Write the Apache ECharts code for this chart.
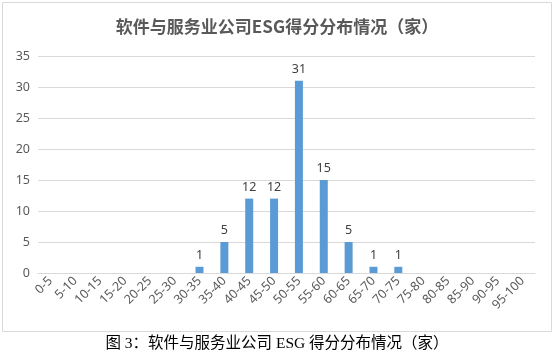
<!DOCTYPE html>
<html><head><meta charset="utf-8">
<script src="https://cdn.jsdelivr.net/npm/echarts@6/dist/echarts.min.js"></script>
<style>html,body{margin:0;padding:0;background:#fff}#c{width:554px;height:360px}</style>
</head><body><div id="c"></div>
<script>
const categories = ['0-5','5-10','10-15','15-20','20-25','25-30','30-35','35-40','40-45','45-50','50-55','55-60','60-65','65-70','70-75','75-80','80-85','85-90','90-95','95-100'];
const counts = [0,0,0,0,0,0,1,5,12,12,31,15,5,1,1,0,0,0,0,0];
const yTicks = [0,5,10,15,20,25,30,35];
const chart = echarts.init(document.getElementById('c'));
chart.setOption({
  animation:false,
  title:{text:'软件与服务业公司ESG得分分布情况（家）',left:'center',top:13,
    textStyle:{fontFamily:'Noto Sans CJK SC',fontSize:17,fontWeight:'bold',color:'#595959'}},
  grid:{left:38,right:19,top:56,bottom:87,containLabel:false},
  xAxis:{type:'category',data:categories,
    axisLine:{lineStyle:{color:'#d9d9d9'}},axisTick:{show:false},
    axisLabel:{rotate:45,interval:0,color:'#595959',fontSize:12.5,fontFamily:'Noto Sans',margin:6}},
  yAxis:{type:'value',min:0,max:35,interval:5,
    axisLine:{show:false},axisTick:{show:false},
    splitLine:{lineStyle:{color:'#d9d9d9'}},
    axisLabel:{color:'#595959',fontSize:12.5,fontFamily:'Noto Sans',margin:8,
      formatter:v=>yTicks.includes(v)?String(v):''}},
  series:[{type:'bar',data:counts.map(v=>v===0?null:v),barWidth:8,
    itemStyle:{color:'#5B9BD5'},
    label:{show:true,position:'top',color:'#404040',fontSize:12.5,fontFamily:'Noto Sans',distance:5}}],
  graphic:[
    {type:'rect',shape:{x:2.5,y:2.5,width:549,height:329},style:{fill:null,stroke:'#d9d9d9',lineWidth:1},silent:true},
    {type:'text',left:'center',top:336,style:{text:'图 3：软件与服务业公司 ESG 得分分布情况（家）',
      font:'15.5px "Liberation Serif", "Noto Sans CJK SC"',fill:'#000'}}
  ]
});
</script></body></html>
